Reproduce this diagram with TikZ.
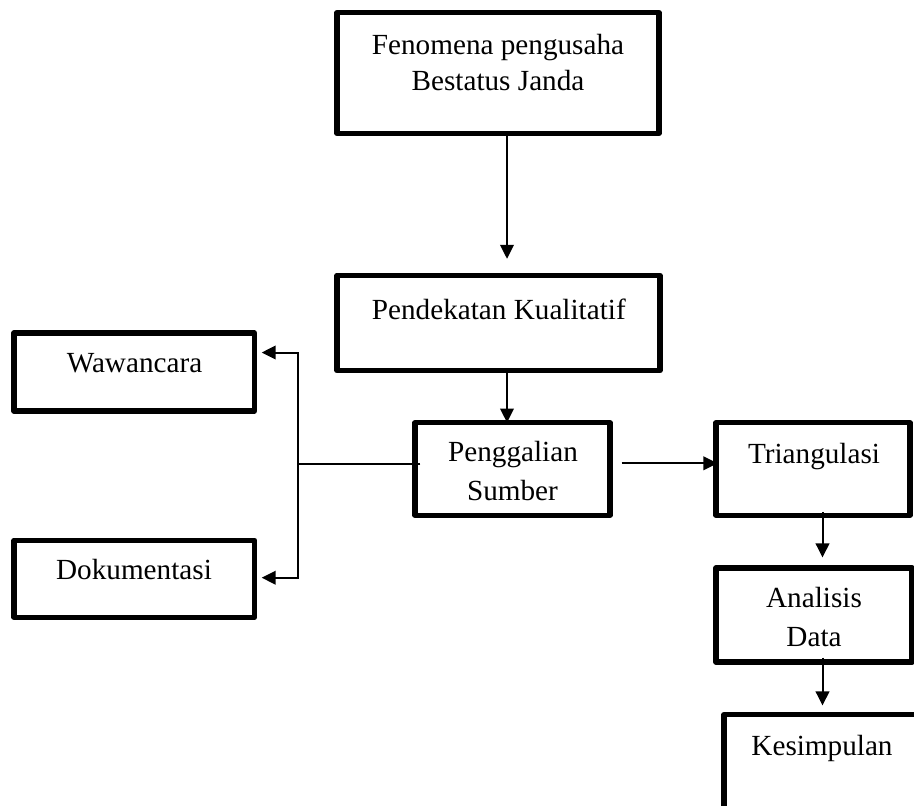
\documentclass[tikz,border=0pt]{standalone}
\usepackage{fontspec}
\setmainfont{Liberation Serif}
\usetikzlibrary{arrows.meta,calc}
\begin{document}
\begin{tikzpicture}[x=0.5pt,y=-0.5pt,
  box/.style={draw, line width=2.6pt, line join=round, inner sep=0pt},
  txt/.style={anchor=base, inner sep=0pt, font=\fontsize{14.6}{17.5}\selectfont},
  ln/.style={line width=1pt},
  arr/.style={line width=1pt, -{Triangle[length=7pt,width=6.8pt]}}]
\useasboundingbox (0,0) rectangle (914,805);
\clip (0,0) rectangle (914,805);

% boxes
\node[box, minimum width=161pt, minimum height=60.3pt] (fen) at (498,73) {};
\node[box, minimum width=161.5pt, minimum height=47.6pt] (pend) at (498.5,323) {};
\node[box, minimum width=120.3pt, minimum height=39pt] (waw) at (134.3,372) {};
\node[box, minimum width=120.3pt, minimum height=38.5pt] (dok) at (134.3,578.7) {};
\node[box, minimum width=97.5pt, minimum height=46.2pt] (peng) at (512.5,469) {};
\node[box, minimum width=97pt, minimum height=46.2pt] (tri) at (813,469) {};
\node[box, minimum width=98pt, minimum height=47pt] (ana) at (814,615) {};
\node[box, minimum width=98pt, minimum height=60pt] (kes) at (822,774.5) {};

% texts
\node[txt] (fen1) at (498,54.3) {Fenomena pengusaha};
\node[txt] (fen2) at (498,90.7) {Bestatus Janda};
\node[txt] (pendt) at (498.8,319) {Pendekatan Kualitatif};
\node[txt] (wawt) at (134.5,372.3) {Wawancara};
\node[txt] (dokt) at (134,579.3) {Dokumentasi};
\node[txt] (peng1) at (513,461.7) {Penggalian};
\node[txt] (peng2) at (512.5,500) {Sumber};
\node[txt] (trit) at (814,463.3) {Triangulasi};
\node[txt] (ana1) at (814,607.3) {Analisis};
\node[txt] (ana2) at (814,646.7) {Data};
\node[txt] (kest) at (822,755.5) {Kesimpulan};

% connectors
\draw[arr] ($(fen.south)+(9,-3)$) -- ($(pend.north)+(8.5,-14)$);
\draw[arr] ($(pend.south)+(8.5,-5)$) -- ($(peng.north)+(-5.5,2.3)$);
\coordinate (jn) at ($(peng.west)+(-114,-5.3)$);
\draw[ln] ($(peng.west)+(8,-5.3)$) -- (jn);
\draw[arr] (jn) |- ($(waw.east)+(4.5,-19.5)$);
\draw[arr] (jn) |- ($(dok.east)+(4.5,-1)$);
\draw[arr] ($(peng.east)+(9,-5.7)$) -- ($(tri.west)+(4,-5.7)$);
\draw[arr] ($(tri.south)+(9.5,-6)$) -- ($(ana.north)+(8.5,-8)$);
\draw[arr] ($(ana.south)+(8.5,-7)$) -- ($(kes.north)+(0.5,-6.5)$);
\end{tikzpicture}
\end{document}
